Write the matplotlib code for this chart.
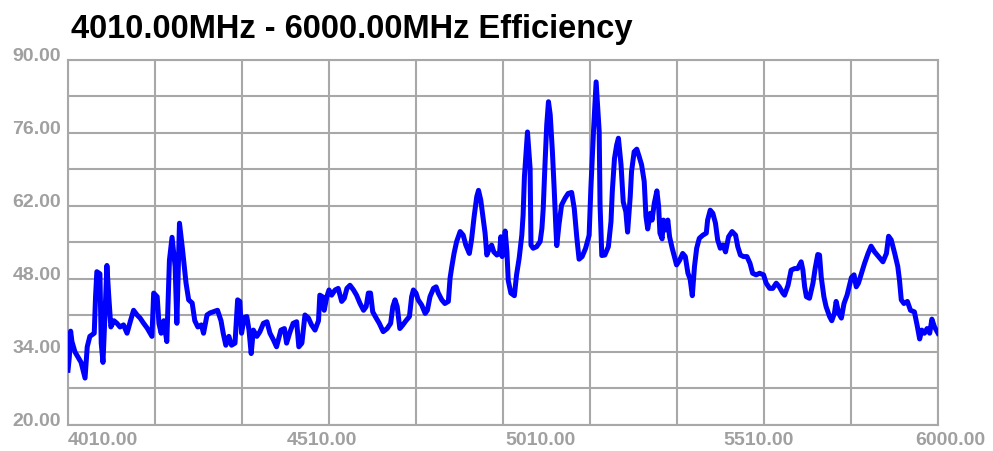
import numpy as np
import matplotlib.pyplot as plt
from matplotlib.transforms import ScaledTranslation

plt.rcParams['font.family'] = ['Liberation Sans', 'DejaVu Sans']
plt.rcParams['font.weight'] = 'bold'

# -----------------------------
# Data
# -----------------------------
freq = [
    4010, 4013, 4016, 4019, 4026, 4040, 4049, 4054, 4060, 4070,
    4073, 4076, 4083, 4086, 4090, 4095, 4099, 4103, 4108, 4115,
    4122, 4129, 4137, 4145, 4153, 4160, 4168, 4175, 4183, 4191,
    4198, 4202, 4206, 4214, 4218, 4223, 4229, 4236, 4242, 4248,
    4255, 4259, 4265, 4272, 4280, 4286, 4294, 4300, 4307, 4315,
    4320, 4328, 4335, 4342, 4352, 4360, 4365, 4371, 4378, 4384,
    4392, 4398, 4403, 4407, 4413, 4419, 4424, 4429, 4434, 4442,
    4449, 4457, 4465, 4472, 4480, 4487, 4497, 4505, 4510, 4518,
    4525, 4533, 4538, 4545, 4552, 4560, 4567, 4575, 4583, 4586,
    4592, 4596, 4602, 4607, 4613, 4621, 4628, 4636, 4642, 4648,
    4655, 4663, 4670, 4678, 4686, 4692, 4697, 4702, 4707, 4715,
    4722, 4731, 4740, 4748, 4753, 4758, 4763, 4769, 4776, 4783,
    4791, 4796, 4800, 4806, 4811, 4819, 4827, 4832, 4838, 4846,
    4852, 4857, 4865, 4872, 4880, 4884, 4888, 4893, 4899, 4907,
    4914, 4920, 4928, 4933, 4939, 4945, 4949, 4954, 4960, 4964,
    4968, 4974, 4979, 4984, 4991, 4997, 5000, 5003, 5010, 5014,
    5017, 5023, 5031, 5036, 5042, 5048, 5051, 5054, 5061, 5067,
    5069, 5074, 5082, 5090, 5094, 5097, 5101, 5105, 5109, 5113,
    5118, 5122, 5126, 5128, 5133, 5139, 5147, 5154, 5162, 5168,
    5174, 5179, 5186, 5194, 5202, 5206, 5212, 5218, 5225, 5227,
    5231, 5238, 5246, 5252, 5255, 5260, 5265, 5269, 5275, 5280,
    5286, 5290, 5296, 5299, 5305, 5311, 5316, 5322, 5328, 5332,
    5336, 5342, 5346, 5351, 5357, 5361, 5364, 5369, 5372, 5377,
    5382, 5386, 5392, 5397, 5402, 5409, 5416, 5422, 5428, 5433,
    5438, 5443, 5448, 5454, 5462, 5470, 5473, 5479, 5485, 5491,
    5496, 5502, 5508, 5514, 5521, 5529, 5537, 5542, 5548, 5555,
    5563, 5570, 5576, 5584, 5592, 5601, 5607, 5615, 5622, 5630,
    5637, 5645, 5649, 5657, 5664, 5672, 5679, 5687, 5691, 5695,
    5699, 5706, 5714, 5719, 5725, 5729, 5733, 5739, 5744, 5752,
    5757, 5763, 5767, 5773, 5779, 5785, 5792, 5802, 5808, 5813,
    5818, 5825, 5832, 5840, 5847, 5855, 5864, 5874, 5882, 5887,
    5893, 5901, 5908, 5912, 5916, 5922, 5930, 5937, 5946, 5953,
    5958, 5963, 5969, 5975, 5981, 5986, 5992, 6000,
]

efficiency = [
    30.5, 33.0, 38.0, 36.0, 34.0, 32.0, 29.0, 35.0, 37.0, 37.6,
    44.6, 49.4, 49.0, 35.7, 32.0, 42.0, 50.6, 45.0, 38.8, 40.0,
    39.5, 38.8, 39.2, 37.6, 40.0, 42.0, 41.1, 40.5, 39.5, 38.6,
    37.6, 37.0, 45.3, 44.6, 39.5, 37.6, 40.0, 36.0, 51.6, 56.0,
    50.4, 39.5, 58.7, 53.6, 47.2, 44.0, 43.4, 40.0, 38.8, 39.2,
    37.6, 41.1, 41.5, 41.7, 42.0, 40.0, 37.6, 35.3, 37.0, 35.3,
    35.7, 44.0, 43.7, 37.6, 40.6, 40.8, 38.2, 33.7, 38.2, 37.0,
    37.9, 39.5, 39.8, 37.6, 36.3, 35.0, 38.2, 38.5, 35.7, 37.9,
    39.5, 39.8, 35.0, 35.7, 41.1, 40.5, 39.2, 38.2, 40.0, 44.9,
    44.6, 42.0, 44.6, 45.9, 44.9, 45.9, 46.2, 43.7, 44.3, 46.2,
    46.8, 45.9, 44.9, 43.3, 42.0, 42.7, 45.3, 45.3, 41.7, 40.5,
    39.5, 37.9, 38.5, 39.5, 42.7, 44.0, 42.7, 38.5, 39.2, 40.0,
    40.8, 44.6, 45.9, 45.3, 44.0, 43.0, 41.4, 42.0, 44.6, 46.2,
    46.5, 45.3, 44.0, 43.3, 43.7, 48.2, 50.4, 52.9, 55.2, 57.1,
    56.4, 54.5, 52.9, 55.5, 60.0, 63.8, 65.0, 63.2, 59.3, 56.8,
    52.6, 53.9, 54.5, 53.2, 52.6, 52.9, 56.1, 52.3, 57.2, 53.2,
    47.7, 45.3, 44.8, 48.8, 52.0, 56.4, 60.3, 67.6, 76.2, 69.2,
    54.5, 53.9, 54.2, 55.2, 57.7, 61.5, 69.9, 77.5, 82.0, 79.5,
    72.4, 65.4, 57.7, 54.4, 58.4, 62.2, 63.5, 64.4, 64.6, 61.5,
    55.8, 51.8, 52.3, 53.9, 56.4, 65.4, 76.3, 85.8, 76.3, 62.2,
    52.5, 52.6, 54.2, 59.0, 64.8, 71.1, 73.7, 75.0, 69.9, 62.8,
    60.9, 57.0, 63.8, 68.6, 72.4, 72.9, 71.6, 69.9, 66.7, 60.0,
    57.6, 60.6, 59.3, 62.5, 64.9, 61.9, 56.8, 55.7, 59.3, 57.4,
    59.3, 56.1, 53.9, 52.3, 50.7, 51.6, 52.9, 52.3, 49.1, 48.0,
    44.8, 50.4, 53.9, 55.8, 56.4, 56.8, 59.3, 61.2, 60.6, 58.7,
    55.5, 53.9, 54.5, 53.2, 56.1, 57.1, 56.4, 54.2, 52.6, 52.3,
    52.3, 51.0, 49.1, 48.8, 49.1, 48.8, 47.2, 46.2, 46.2, 47.2,
    46.5, 45.3, 44.9, 46.8, 49.7, 50.0, 50.0, 51.3, 49.7, 46.5,
    44.6, 44.3, 47.2, 50.0, 52.7, 52.6, 48.3, 44.6, 42.7, 40.8,
    40.0, 41.4, 43.7, 41.4, 40.5, 43.3, 44.9, 48.3, 48.8, 46.5,
    47.2, 49.1, 51.0, 52.9, 54.3, 53.2, 52.3, 51.3, 52.9, 56.2,
    55.5, 52.9, 50.4, 47.7, 44.0, 43.3, 43.7, 42.0, 41.7, 38.8,
    36.5, 38.2, 37.6, 38.5, 37.6, 40.3, 38.8, 37.6,
]

x_label_vals = [4010, 4510, 5010, 5510, 6000]
x_labels = ["4010.00", "4510.00", "5010.00", "5510.00", "6000.00"]
y_label_vals = [20, 34, 48, 62, 76, 90]
y_labels = ["20.00", "34.00", "48.00", "62.00", "76.00", "90.00"]

title = "4010.00MHz - 6000.00MHz Efficiency"

# -----------------------------
# Plot
# -----------------------------
W, H = 993, 451
fig = plt.figure(figsize=(W / 100, H / 100), dpi=100)
ax = fig.add_axes([68 / W, 26 / H, 870 / W, 365 / H])

grid_col = "#a8a8a8"
lab_col = "#a0a0a0"

ax.plot(freq, efficiency, color="#0000ff", linewidth=3.6, zorder=3)

ax.set_xlim(4010, 6000)
ax.set_ylim(20, 90)

# keep minor label ticks even where they sit on a grid line
ax.xaxis.remove_overlapping_locs = False
ax.yaxis.remove_overlapping_locs = False

# grid lines (10 divisions each way)
ax.set_xticks(np.linspace(4010, 6000, 11))
ax.set_yticks(np.linspace(20, 90, 11))
ax.tick_params(which="major", length=0, labelbottom=False, labelleft=False)
ax.grid(True, which="major", color=grid_col, linewidth=1.5)

# labels on minor ticks
ax.set_xticks(x_label_vals, x_labels, minor=True)
ax.set_yticks(y_label_vals, y_labels, minor=True)
ax.tick_params(which="minor", length=0, labelcolor=lab_col, labelsize=14, pad=5)

for lab in ax.get_xticklabels(minor=True):
    lab.set_horizontalalignment("left")
xl = ax.get_xticklabels(minor=True)
xl[-1].set_transform(xl[-1].get_transform()
                     + ScaledTranslation(-23 / 100, 0, fig.dpi_scale_trans))

for lab in ax.get_yticklabels(minor=True):
    lab.set_verticalalignment("baseline")
    lab.set_transform(lab.get_transform()
                      + ScaledTranslation(0, -1 / 100, fig.dpi_scale_trans))

for s in ax.spines.values():
    s.set_color(grid_col)
    s.set_linewidth(1.5)

fig.text(71 / W, 1 - 38 / H, title, fontsize=23.5, fontweight="bold",
         color="black", va="baseline", ha="left")

fig.savefig("out.png", dpi=100)
